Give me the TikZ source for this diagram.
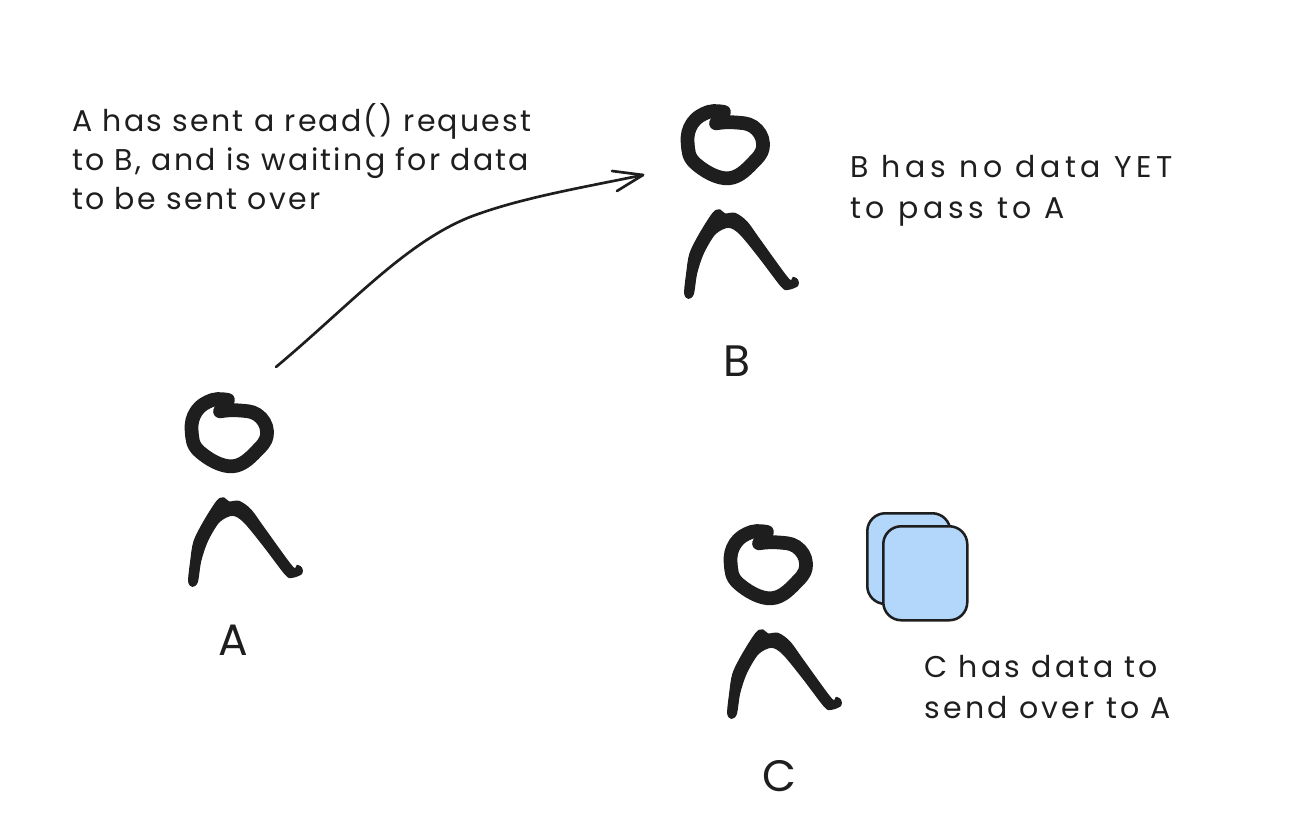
\documentclass[tikz,border=0pt]{standalone}
\usepackage{fontspec}
\setmainfont{Poppins}
\newfontfamily\noteAfont[LetterSpace=7.5]{Poppins}
\newfontfamily\noteBfont[LetterSpace=16]{Poppins}
\newfontfamily\noteCfont[LetterSpace=11]{Poppins}
\definecolor{ink}{HTML}{1E1E1E}
\definecolor{card}{HTML}{B2D7FB}
\tikzset{
  x=0.75pt,y=-0.75pt,
  note/.style={anchor=north west,inner sep=0pt,align=left,text=ink},
  letter/.style={anchor=center,inner sep=0pt,text=ink,font=\fontsize{33}{36}\selectfont},
  headline/.style={draw=ink,line width=10.3pt,line cap=round,line join=round},
  bodyfill/.style={fill=ink,draw=ink,line width=0.8pt,line join=round},
  cardbox/.style={draw=ink,fill=card,line width=1.9pt,rounded corners=13.5pt},
}
\newcommand{\stickman}[2]{%
  \begin{scope}[shift={(#1,#2)},x=0.25pt,y=-0.25pt]
    \draw[headline] plot[smooth,tension=0.7] coordinates {(192,66)(145,66)(97,100)(83,160)(108,222)(205,265)(285,212)(309,160)(280,110)(220,97)(168,100)};
    \path[bodyfill] plot[smooth cycle,tension=0.5] coordinates {(74,610)(85,625)(100,612)(110,550)(130,490)(165,432)(205,412)(240,432)(300,505)(365,590)(385,598)(413,587)(413,570)(400,562)(385,566)(300,450)(260,395)(225,370)(195,372)(180,360)(160,368)(120,430)(90,490)(80,550)};
  \end{scope}}
\begin{document}
\begin{tikzpicture}
  \useasboundingbox (0,0) rectangle (1306,830);
  \stickman{660}{90}
  \stickman{164}{378}
  \stickman{703}{510}
  \node[cardbox,minimum width=62.25pt,minimum height=68pt,anchor=north west] (cardback) at (866,512) {};
  \node[cardbox,minimum width=63pt,minimum height=70.5pt,anchor=north west] (cardfront) at (882,525) {};
  \node[note,font=\noteAfont\fontsize{22.5}{29.3}\selectfont] (noteA) at (72,103) {A has sent a read() request\\to B, and is waiting for data\\to be sent over};
  \node[note,font=\noteBfont\fontsize{22.5}{30.8}\selectfont] (noteB) at (850,155) {B has no data YET\\to pass to A};
  \node[note,font=\noteCfont\fontsize{22.5}{30.8}\selectfont] (noteC) at (924,655) {C has data to\\send over to A};
  \node[letter] (labelA) at (233,640) {A};
  \node[letter] (labelB) at (737,361) {B};
  \node[letter] (labelC) at (779,776) {C};
  \coordinate (from) at (276,367);
  \coordinate (to) at (643,175);
  \draw[ink,line width=2pt,line cap=round] (from) .. controls (350,305) and (405,243) .. (470,217) .. controls (520,198) and (580,188) .. (to);
  \draw[ink,line width=2pt,line cap=round,line join=round] (612,171) -- (to) -- (617,191);
\end{tikzpicture}
\end{document}
